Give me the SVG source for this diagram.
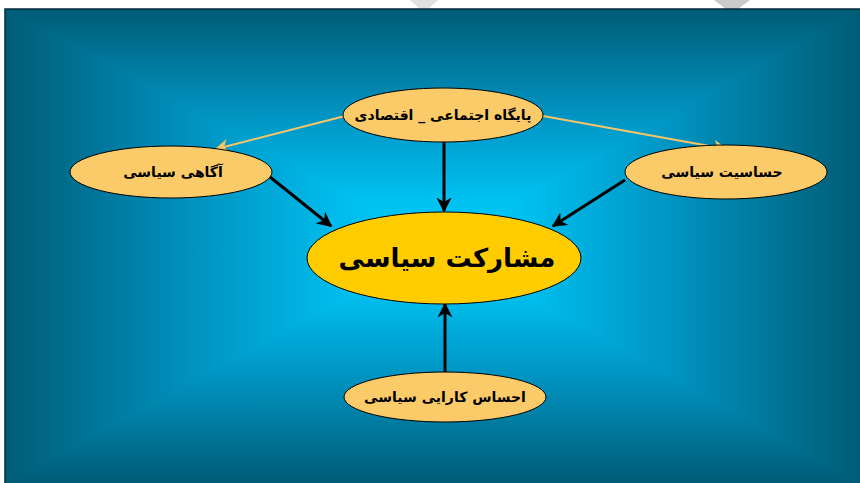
<svg xmlns="http://www.w3.org/2000/svg" width="860" height="483" viewBox="0 0 860 483">
<defs>
<style>
.bg{stroke:none;shape-rendering:crispEdges}
.node{fill:#fbcb6a;stroke:#000;stroke-width:1}
.main{fill:#ffcc00;stroke:#000;stroke-width:1}
.lbl{font-family:"DejaVu Sans",sans-serif;font-weight:bold;fill:#000;text-anchor:middle;direction:rtl}
.blk{stroke:#000;stroke-width:3;fill:none;marker-end:url(#ab)}
.org{stroke:#f8c468;stroke-width:2;fill:none;marker-end:url(#ao)}
</style>
<marker id="ab" viewBox="0 0 10 10" refX="9" refY="5" markerWidth="5" markerHeight="5" markerUnits="strokeWidth" orient="auto">
<path d="M0,0 L10,5 L0,10 L3,5 Z" fill="#000"/>
</marker>
<marker id="ao" viewBox="0 0 10 10" refX="9" refY="5" markerWidth="7" markerHeight="7" markerUnits="strokeWidth" orient="auto">
<path d="M0,0 L10,5 L0,10 L3,5 Z" fill="#f8c468"/>
</marker>
<linearGradient id="gT" gradientUnits="userSpaceOnUse" x1="0" y1="9" x2="0" y2="245">
<stop offset="0" stop-color="#005c76"/><stop offset="0.45" stop-color="#0094c2"/><stop offset="0.8" stop-color="#00c0f0"/><stop offset="1" stop-color="#00cffa"/>
</linearGradient>
<linearGradient id="gB" gradientUnits="userSpaceOnUse" x1="0" y1="483" x2="0" y2="245">
<stop offset="0" stop-color="#005c76"/><stop offset="0.45" stop-color="#0094c2"/><stop offset="0.8" stop-color="#00c0f0"/><stop offset="1" stop-color="#00cffa"/>
</linearGradient>
<linearGradient id="gL" gradientUnits="userSpaceOnUse" x1="5" y1="0" x2="440" y2="0">
<stop offset="0" stop-color="#005c76"/><stop offset="0.45" stop-color="#0094c2"/><stop offset="0.8" stop-color="#00c0f0"/><stop offset="1" stop-color="#00cffa"/>
</linearGradient>
<linearGradient id="gR" gradientUnits="userSpaceOnUse" x1="860" y1="0" x2="440" y2="0">
<stop offset="0" stop-color="#005c76"/><stop offset="0.45" stop-color="#0094c2"/><stop offset="0.8" stop-color="#00c0f0"/><stop offset="1" stop-color="#00cffa"/>
</linearGradient>
</defs>
<rect width="860" height="483" fill="#ffffff"/>
<polygon points="410,0 438,0 428,9 420,9" fill="#e0e0e0"/>
<polygon points="714,0 750,0 738,9 726,9" fill="#cacaca"/>
<g id="background">
<polygon class="bg" points="5,9 860,9 440,245" fill="url(#gT)"/>
<polygon class="bg" points="5,483 860,483 440,245" fill="url(#gB)"/>
<polygon class="bg" points="5,9 5,483 440,245" fill="url(#gL)"/>
<polygon class="bg" points="860,9 860,483 440,245" fill="url(#gR)"/>
<polyline points="5,483 5,9 860,9" fill="none" stroke="#002c3a" stroke-width="1.5"/>
</g>
<g id="connectors">
<line class="org" x1="345" y1="116" x2="216" y2="149"/>
<line class="org" x1="543" y1="116" x2="726" y2="149"/>
<line class="blk" x1="444" y1="142" x2="444" y2="211"/>
<line class="blk" x1="270" y1="177" x2="331" y2="226"/>
<line class="blk" x1="625" y1="180" x2="553" y2="226"/>
<line class="blk" x1="445" y1="372" x2="445" y2="304"/>
</g>
<g id="n-base">
<ellipse class="node" cx="443" cy="115" rx="100" ry="27"/>
<text class="lbl" x="443" y="120" font-size="14">پایگاه اجتماعی _ اقتصادی</text>
</g>
<g id="n-awareness">
<ellipse class="node" cx="171" cy="172" rx="101" ry="26"/>
<text class="lbl" x="173" y="177" font-size="14">آگاهی سیاسی</text>
</g>
<g id="n-sensitivity">
<ellipse class="node" cx="726" cy="172" rx="101" ry="27"/>
<text class="lbl" x="722" y="177" font-size="14">حساسیت سیاسی</text>
</g>
<g id="n-participation">
<ellipse class="main" cx="444" cy="258" rx="137" ry="46"/>
<text class="lbl" x="447" y="267" font-size="26">مشارکت سیاسی</text>
</g>
<g id="n-efficacy">
<ellipse class="node" cx="445" cy="397" rx="101" ry="25"/>
<text class="lbl" x="445" y="402" font-size="14">احساس کارایی سیاسی</text>
</g>
</svg>
